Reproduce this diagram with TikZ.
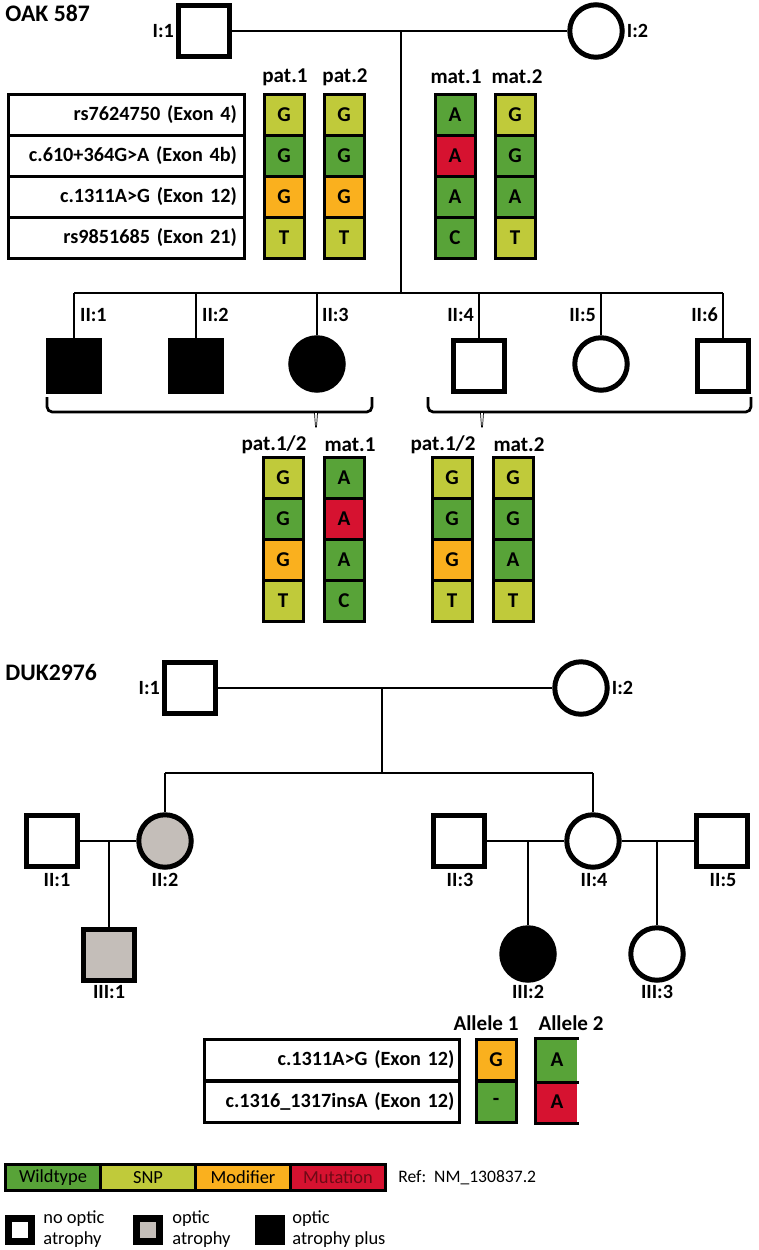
\documentclass[tikz,border=0pt]{standalone}
\usepackage{fontspec}
\setmainfont{Carlito}
\usepackage{tikz}
\usetikzlibrary{positioning}

\definecolor{wildgreen}{RGB}{88,163,56}
\definecolor{snpgreen}{RGB}{192,202,58}
\definecolor{modorange}{RGB}{250,176,30}
\definecolor{mutred}{RGB}{214,18,48}
\definecolor{mutdark}{RGB}{110,10,22}
\definecolor{atrogray}{RGB}{196,190,185}

\tikzset{
  male/.style={draw, rectangle, line width=0.1cm, minimum size=1.02cm, inner sep=0pt, fill=white},
  female/.style={draw, circle, line width=0.1cm, minimum size=1.05cm, inner sep=0pt, fill=white},
  aff/.style={fill=black},
  atro/.style={fill=atrogray},
  rel/.style={line width=0.055cm},
  idlab/.style={font=\bfseries\fontsize{11.5}{13}\selectfont, inner sep=1pt},
  famlab/.style={font=\bfseries\fontsize{13.5}{15}\selectfont, inner sep=0pt, anchor=west},
  hdr/.style={font=\bfseries\fontsize{12}{14}\selectfont, inner sep=0pt},
  cell/.style={draw, line width=0.06cm, minimum width=0.8cm, minimum height=0.82cm, inner sep=0pt, font=\bfseries\fontsize{12}{14}\selectfont},
  cellline/.style={line width=0.06cm},
  snprow/.style={draw, line width=0.06cm, minimum height=0.82cm, inner xsep=0.15cm, inner ysep=0pt, align=right, font=\bfseries\fontsize{11.5}{14}\selectfont},
  keybar/.style={draw, line width=0.06cm, minimum width=1.9cm, minimum height=0.52cm, inner sep=0pt, font=\fontsize{10.5}{12}\selectfont},
  keysym/.style={draw, rectangle, line width=0.14cm, minimum size=0.46cm, inner sep=0pt, fill=white},
  keytext/.style={anchor=west, align=left, inner sep=0pt, font=\fontsize{10.5}{11.5}\selectfont},
  bracetip/.style={line width=0.4pt, fill=white}
}

\begin{document}
\begin{tikzpicture}[x=0.02cm, y=-0.02cm]
\useasboundingbox (0,0) rectangle (759,1250);

% ---------------- OAK 587 ----------------
\node[famlab] (oak) at (5,13) {OAK 587};

\node[male] (o11) at (204,31) {};
\node[female] (o12) at (596,31) {};
\node[idlab, anchor=east] (o11l) at (o11.west) {I:1};
\node[idlab, anchor=west] (o12l) at (o12.east) {I:2};
\coordinate (om) at (401,31);
\coordinate (osib) at (401,293);
\draw[rel] (o11) -- (o12);
\draw[rel] (om) -- (osib);

\node[male, aff] (o21) at (74,366) {};
\node[male, aff] (o22) at (196,366) {};
\node[female, aff] (o23) at (317,364) {};
\node[male] (o24) at (479,366) {};
\node[female] (o25) at (601,364) {};
\node[male] (o26) at (723,366) {};
\draw[rel] (o21 |- osib) -- (o26 |- osib);
\foreach \kid in {o21,o22,o23,o24,o25,o26}
  \draw[rel] (\kid.north |- osib) -- (\kid.north);
\node[idlab, anchor=west] (o21l) at (78,315) {II:1};
\node[idlab, anchor=west] (o22l) at (200,315) {II:2};
\node[idlab, anchor=west] (o23l) at (320,315) {II:3};
\node[idlab, anchor=east] (o24l) at (476,315) {II:4};
\node[idlab, anchor=east] (o25l) at (598,315) {II:5};
\node[idlab, anchor=east] (o26l) at (720,315) {II:6};

% braces under the sibs
\draw[rel, rounded corners=3pt] (47,397) -- (47,412) -- (372,412) -- (372,397);
\draw[bracetip] (314.5,413) -- (315.5,427) -- (316.5,427) -- (317.5,413);
\draw[rel, rounded corners=3pt] (428,397) -- (428,412) -- (751,412) -- (751,397);
\draw[bracetip] (480.5,413) -- (481.5,427) -- (482.5,427) -- (483.5,413);

% marker table
\node[snprow, text width=4.42cm] (m1) at (126.5,115) {rs7624750 (Exon 4)};
\node[snprow, text width=4.42cm] (m2) at (126.5,156) {c.610+364G>A (Exon 4b)};
\node[snprow, text width=4.42cm] (m3) at (126.5,197) {c.1311A>G (Exon 12)};
\node[snprow, text width=4.42cm] (m4) at (126.5,238) {rs9851685 (Exon 21)};

% parental haplotypes
\node[hdr] (pa1h) at (285,77) {pat.1};
\node[hdr] (pa2h) at (345,77) {pat.2};
\node[hdr] (ma1h) at (456,77) {mat.1};
\node[hdr] (ma2h) at (517,77) {mat.2};
\foreach \hap/\cx/\alls in {pa1/284/{snpgreen/G,wildgreen/G,modorange/G,snpgreen/T},
                           pa2/344/{snpgreen/G,wildgreen/G,modorange/G,snpgreen/T},
                           ma1/455/{wildgreen/A,mutred/A,wildgreen/A,wildgreen/C},
                           ma2/515/{snpgreen/G,wildgreen/G,wildgreen/A,snpgreen/T}}
  \foreach \col/\base [count=\r] in \alls
    \node[cell, fill=\col] (\hap-\r) at (\cx,{74+41*\r}) {\base};

% haplotypes of the sibs
\node[hdr] (ka1h) at (274,445) {pat.1/2};
\node[hdr] (ka2h) at (350,445) {mat.1};
\node[hdr] (kb1h) at (443,445) {pat.1/2};
\node[hdr] (kb2h) at (519,445) {mat.2};
\foreach \hap/\cx/\alls in {ka1/283/{snpgreen/G,wildgreen/G,modorange/G,snpgreen/T},
                           ka2/344/{wildgreen/A,mutred/A,wildgreen/A,wildgreen/C},
                           kb1/452/{snpgreen/G,wildgreen/G,modorange/G,snpgreen/T},
                           kb2/513/{snpgreen/G,wildgreen/G,wildgreen/A,snpgreen/T}}
  \foreach \col/\base [count=\r] in \alls
    \node[cell, fill=\col] (\hap-\r) at (\cx,{437+41*\r}) {\base};

% ---------------- DUK2976 ----------------
\node[famlab] (duk) at (5,672) {DUK2976};

\node[male] (d11) at (190,688) {};
\node[female] (d12) at (581,688) {};
\node[idlab, anchor=east] (d11l) at (d11.west) {I:1};
\node[idlab, anchor=west] (d12l) at (d12.east) {I:2};
\coordinate (dm) at (382,688);
\coordinate (dsib) at (382,773);
\draw[rel] (d11) -- (d12);
\draw[rel] (dm) -- (dsib);

\node[male] (d21) at (52,841) {};
\node[female, atro] (d22) at (165,841) {};
\node[male] (d23) at (459,841) {};
\node[female] (d24) at (593,841) {};
\node[male] (d25) at (722,841) {};
\draw[rel] (d22.north |- dsib) -- (d24.north |- dsib);
\draw[rel] (d22.north |- dsib) -- (d22.north);
\draw[rel] (d24.north |- dsib) -- (d24.north);
\draw[rel] (d21) -- (d22);
\draw[rel] (d23) -- (d24);
\draw[rel] (d24) -- (d25);

\node[male, atro] (d31) at (109,955) {};
\node[female, aff] (d32) at (528,954) {};
\node[female] (d33) at (657,954) {};
\coordinate (c1) at (109,841);
\coordinate (c2) at (528,841);
\coordinate (c3) at (657,841);
\draw[rel] (c1) -- (d31);
\draw[rel] (c2) -- (d32);
\draw[rel] (c3) -- (d33);

\node[idlab] (d21l) at (57,880) {II:1};
\node[idlab] (d22l) at (165,880) {II:2};
\node[idlab] (d23l) at (460,880) {II:3};
\node[idlab] (d24l) at (594,880) {II:4};
\node[idlab] (d25l) at (723,880) {II:5};
\node[idlab] (d31l) at (109,992) {III:1};
\node[idlab] (d32l) at (528,992) {III:2};
\node[idlab] (d33l) at (657,992) {III:3};

% variant table
\node[snprow, text width=4.9cm, inner xsep=0.1cm] (v1) at (332,1060) {c.1311A>G (Exon 12)};
\node[snprow, text width=4.9cm, inner xsep=0.1cm] (v2) at (332,1101.5) {c.1316\_1317insA (Exon 12)};
\node[hdr] (al1h) at (486,1023) {Allele 1};
\node[hdr] (al2h) at (571,1023) {Allele 2};
\node[cell, fill=modorange] (al1-1) at (496,1060) {G};
\node[cell, fill=wildgreen] (al1-2) at (496,1101.5) {-};
\node[cell, fill=wildgreen, draw=none] (al2-1) at (557,1060) {A};
\node[cell, fill=mutred, draw=none] (al2-2) at (557,1101.5) {A};
\draw[cellline] (al2-1.north east) -- (al2-1.north west) -- (al2-2.south west) -- (al2-2.south east);
\draw[cellline] (al2-1.south west) -- (al2-1.south east);

% ---------------- key ----------------
\node[keybar, fill=wildgreen] (k1) at (53,1177.5) {Wildtype};
\node[keybar, fill=snpgreen] (k2) at (148,1177.5) {SNP};
\node[keybar, fill=modorange] (k3) at (243,1177.5) {Modifier};
\node[keybar, fill=mutred, text=mutdark] (k4) at (338,1177.5) {Mutation};
\node[anchor=west, inner sep=0pt, font=\fontsize{10}{12}\selectfont] (ref) at (398,1178) {Ref:\ \ NM\_130837.2};

\node[keysym] (s1) at (20,1230) {};
\node[keysym, atro] (s2) at (148,1230) {};
\node[keysym, aff] (s3) at (270,1230) {};
\node[keytext] (s1t) at (43,1229) {no optic\\atrophy};
\node[keytext] (s2t) at (172,1229) {optic\\atrophy};
\node[keytext] (s3t) at (292,1229) {optic\\atrophy plus};
\end{tikzpicture}
\end{document}
